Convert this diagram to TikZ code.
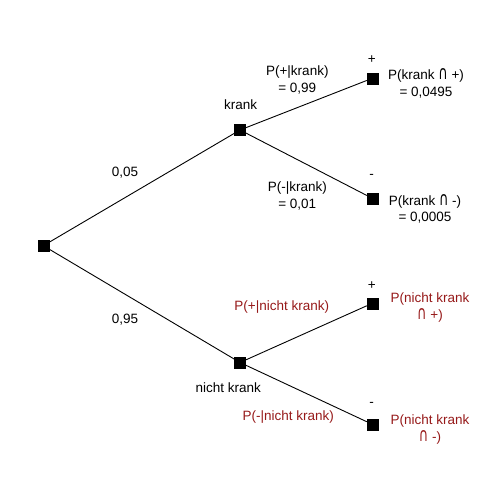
\documentclass[tikz,border=0pt]{standalone}
\usepackage{graphicx}
\usepackage{fontspec}
\setmainfont{Liberation Sans}
\newfontfamily\symf{DejaVu Sans}
\newcommand{\capsym}{\scalebox{0.95}[1.4]{\symf\char"2229}}
\definecolor{darkred}{RGB}{150,25,25}
\begin{document}
\begin{tikzpicture}[x=1pt,y=-1pt,
  sq/.style={draw=black,fill=black,minimum size=11pt,inner sep=0pt,outer sep=0pt},
  lbl/.style={inner sep=0pt,font=\fontsize{13.5}{16.5}\selectfont,align=center},
  rlbl/.style={lbl,text=darkred},
  edge/.style={draw=black,line width=0.9pt}]
\useasboundingbox (0,0) rectangle (500,500);
\node[sq] (root) at (43.3,245.7) {};
\node[sq] (k) at (240,130) {};
\node[sq] (nk) at (240,362.5) {};
\node[sq] (kp) at (372.3,78.3) {};
\node[sq] (km) at (372.3,198.3) {};
\node[sq] (nkp) at (372.3,303.3) {};
\node[sq] (nkm) at (372.3,424.3) {};
\draw[edge] (root) -- (k);
\draw[edge] (root) -- (nk);
\draw[edge] (k) -- (kp);
\draw[edge] (k) -- (km);
\draw[edge] (nk) -- (nkp);
\draw[edge] (nk) -- (nkm);
\node[lbl] (tk) at (240.7,105) {krank};
\node[lbl] (t005) at (125,172.7) {0,05};
\node[lbl] (t095) at (125,320) {0,95};
\node[lbl] (tpk) at (297.3,80.2) {P(+|krank)\\= 0,99};
\node[lbl] (tmk) at (297.3,196.2) {P(-|krank)\\= 0,01};
\node[lbl] (plus1) at (371.7,60) {+};
\node[lbl] (minus1) at (371.7,176.7) {-};
\node[lbl] (tkp) at (426,83.3) {P(krank \capsym{} +)\\= 0,0495};
\node[lbl] (tkm) at (425,208.7) {P(krank \capsym{} -)\\= 0,0005};
\node[lbl] (tnk) at (228.3,387.3) {nicht krank};
\node[rlbl] (tpnk) at (281.7,307.3) {P(+|nicht krank)};
\node[rlbl] (tmnk) at (288.3,416.7) {P(-|nicht krank)};
\node[lbl] (plus2) at (371.7,286) {+};
\node[lbl] (minus2) at (371.7,404) {-};
\node[rlbl] (tnkp) at (430,307.7) {P(nicht krank\\\capsym{} +)};
\node[rlbl] (tnkm) at (430,429.5) {P(nicht krank\\\capsym{} -)};
\end{tikzpicture}
\end{document}
